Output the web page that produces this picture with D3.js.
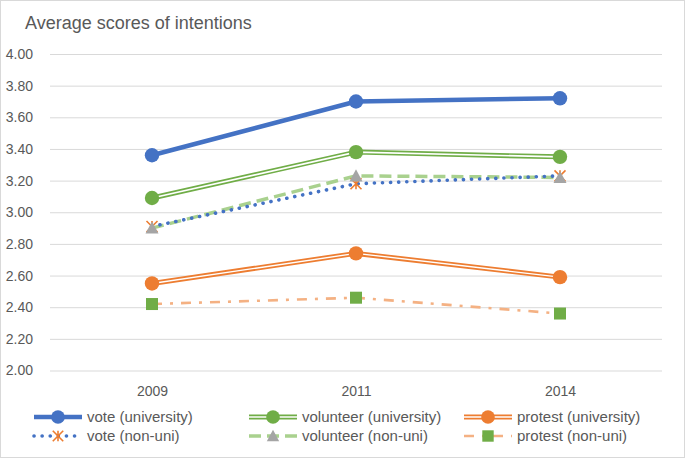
<!DOCTYPE html>
<html><head><meta charset="utf-8">
<script src="https://cdn.jsdelivr.net/npm/d3@7/dist/d3.min.js"></script>
<style>body{margin:0;background:#fff}svg{display:block}text{font-family:"Liberation Sans",Arial,sans-serif}</style>
</head><body>
<svg id="c" width="685" height="458"></svg>
<script>
const title = "Average scores of intentions";
const years = ["2009", "2011", "2014"];
const yTicks = [2.0, 2.2, 2.4, 2.6, 2.8, 3.0, 3.2, 3.4, 3.6, 3.8, 4.0];
const seriesNames = ["vote (university)", "volunteer (university)", "protest (university)",
  "vote (non-uni)", "volunteer (non-uni)", "protest (non-uni)"];
const voteUni = [3.36, 3.70, 3.72];
const volunteerUni = [3.09, 3.38, 3.35];
const protestUni = [2.55, 2.74, 2.59];
const voteNon = [2.91, 3.18, 3.23];
const volunteerNon = [2.90, 3.23, 3.22];
const protestNon = [2.42, 2.46, 2.36];

const styles = [
  {values: voteUni, color:"#4472C4", width:4.5, marker:"circle", mcolor:"#4472C4"},
  {values: volunteerUni, color:"#70AD47", width:5, inner:1.6, marker:"circle", mcolor:"#70AD47"},
  {values: protestUni, color:"#ED7D31", width:5, inner:1.4, marker:"circle", mcolor:"#ED7D31"},
  {values: voteNon, color:"#4472C4", width:3.6, dash:"0.1 8", cap:"round", marker:"star", mcolor:"#ED7D31"},
  {values: volunteerNon, color:"#A9D18E", width:3.5, dash:"12 6", marker:"triangle", mcolor:"#A5A5A5"},
  {values: protestNon, color:"#F4B183", width:2.6, dash:"10 8 3 8", marker:"square", mcolor:"#70AD47"}
];

const svg = d3.select("#c");
svg.append("rect").attr("x",0.5).attr("y",0.5).attr("width",684).attr("height",457)
  .attr("fill","#fff").attr("stroke","#d9d9d9");

const x = d3.scalePoint().domain(years).range([50,662]).padding(0.5);
const y = d3.scaleLinear().domain([2,4]).range([370.5,54]);

svg.append("text").attr("x",25).attr("y",29).attr("font-size",18).attr("fill","#595959").text(title);

// gridlines + y labels
const yAxis = d3.axisLeft(y).tickValues(yTicks).tickFormat(d3.format(".2f")).tickSize(-612).tickPadding(17);
const ga = svg.append("g").attr("transform","translate(50,0)").call(yAxis);
ga.select(".domain").remove();
ga.selectAll("line").attr("stroke","#d9d9d9").attr("stroke-width",1);
ga.selectAll("text").attr("font-size",14).attr("fill","#595959").attr("font-family","Liberation Sans, Arial, sans-serif");

const xAxis = d3.axisBottom(x).tickSize(0).tickPadding(16);
const gx = svg.append("g").attr("transform","translate(0,370.5)").call(xAxis);
gx.select(".domain").remove();
gx.selectAll("text").attr("font-size",14).attr("fill","#595959").attr("font-family","Liberation Sans, Arial, sans-serif");

const line = d3.line().x((d,i)=>x(years[i])).y(d=>y(d));

function drawLine(g, s, path) {
  const p = g.append("path").attr("d", path).attr("fill","none").attr("stroke",s.color)
    .attr("stroke-width",s.width).attr("stroke-linejoin","round");
  if (s.dash) p.attr("stroke-dasharray", s.dash);
  p.attr("stroke-linecap", s.cap || "butt");
  if (s.inner) g.append("path").attr("d", path).attr("fill","none").attr("stroke","#fff")
    .attr("stroke-width",s.inner).attr("stroke-linejoin","round");
}
function drawMarker(g, s, cx, cy, scale) {
  const k = scale || 1;
  if (s.marker==="circle") g.append("circle").attr("cx",cx).attr("cy",cy).attr("r",7.2*k).attr("fill",s.mcolor);
  else if (s.marker==="square") g.append("rect").attr("x",cx-6*k).attr("y",cy-6*k).attr("width",12*k).attr("height",12*k).attr("fill",s.mcolor);
  else if (s.marker==="triangle") {
    const h=6.5*k;
    g.append("path").attr("d",`M${cx},${cy-h}L${cx+h},${cy+h*0.85}L${cx-h},${cy+h*0.85}Z`).attr("fill",s.mcolor);
  } else if (s.marker==="star") {
    const r=5.5*k;
    g.append("path").attr("d",`M${cx-r},${cy-r}L${cx+r},${cy+r}M${cx+r},${cy-r}L${cx-r},${cy+r}M${cx},${cy-r}L${cx},${cy+r}`)
      .attr("stroke",s.mcolor).attr("stroke-width",1.6).attr("fill","none");
  }
}

const lineOrder = [0,1,2,4,3,5];
const gl = svg.append("g");
lineOrder.forEach(i=>drawLine(gl, styles[i], line(styles[i].values)));
const gm = svg.append("g");
[0,1,2,3,4,5].forEach(i=>{
  styles[i].values.forEach((v,j)=>drawMarker(gm, styles[i], x(years[j]), y(v)));
});

// legend
const colX = [34, 249, 464];
const rowY = [417, 436];
seriesNames.forEach((name,i)=>{
  const s = styles[i];
  const lx = colX[i%3], ly = rowY[Math.floor(i/3)];
  const g = svg.append("g");
  drawLine(g, s, `M${lx},${ly}L${lx+48},${ly}`);
  drawMarker(g, s, lx+24, ly, 0.95);
  g.append("text").attr("x",lx+53).attr("y",ly).attr("dy","0.35em").attr("font-size",15)
    .attr("fill","#595959").text(name);
});
</script>
</body></html>
